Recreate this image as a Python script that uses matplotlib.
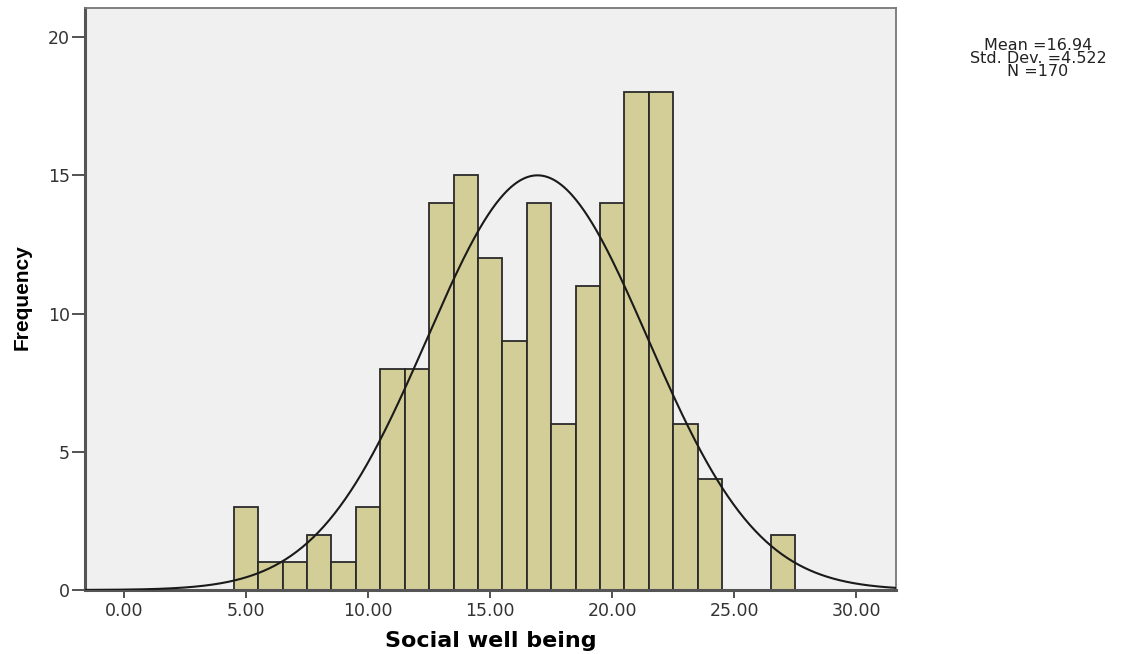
import numpy as np
import matplotlib
matplotlib.use("Agg")
import matplotlib.pyplot as plt
from matplotlib import font_manager

# Data
bin_centers = [5, 6, 7, 8, 9, 10, 11, 12, 13, 14, 15, 16, 17, 18, 19, 20, 21, 22, 23, 24, 25, 26, 27]
frequencies = [3, 1, 1, 2, 1, 3, 8, 8, 14, 15, 12, 9, 14, 6, 11, 14, 18, 18, 6, 4, 0, 0, 2]
mean_val = 16.94
std_val = 4.522
n_val = 170
bin_width = 1.0
x_ticks = [0, 5, 10, 15, 20, 25, 30]
y_ticks = [0, 5, 10, 15, 20]

names = {f.name for f in font_manager.fontManager.ttflist}
arial_like = "Liberation Sans" if "Liberation Sans" in names else "DejaVu Sans"
narrow_font = "Liberation Sans Narrow" if "Liberation Sans Narrow" in names else arial_like
wide_font = "DejaVu Sans"
plt.rcParams["font.family"] = [wide_font]

W, H = 1123, 654
fig = plt.figure(figsize=(W / 100, H / 100), dpi=100)
ax = fig.add_axes([85 / W, 64 / H, 811 / W, 582 / H])
ax.set_facecolor("#F0F0F0")

ax.bar(bin_centers, frequencies, width=bin_width, color="#D3CE97",
       edgecolor="#2A2A2A", linewidth=1.3, zorder=2)

xs = np.linspace(-1.6, 31.7, 600)
ys = n_val * bin_width / (std_val * np.sqrt(2 * np.pi)) * np.exp(-0.5 * ((xs - mean_val) / std_val) ** 2)
ax.plot(xs, ys, color="#1A1A1A", linewidth=1.5, zorder=3)

ax.set_xlim(-1.6, 31.63)
ax.set_ylim(0, 21.05)
ax.set_xticks(x_ticks)
ax.set_xticklabels([f"{t:.2f}" for t in x_ticks])
ax.set_yticks(y_ticks)
ax.tick_params(axis="both", direction="out", width=1.3, colors="#444444",
               labelsize=12.5, labelcolor="#333333")
ax.tick_params(axis="x", length=6, pad=2.5)
ax.tick_params(axis="y", length=9.5, pad=1.5)

for side in ["left", "bottom"]:
    ax.spines[side].set_color("#555555")
    ax.spines[side].set_linewidth(2.2)
for side in ["top", "right"]:
    ax.spines[side].set_color("#777777")
    ax.spines[side].set_linewidth(1.3)

ax.set_xlabel("Social well being", fontsize=16, fontweight="bold", family=[wide_font])
ax.xaxis.label.set_va("center")
ax.xaxis.set_label_coords(0.5, (590 - 641) / 582)

ax.set_ylabel("Frequency", fontsize=15, fontweight="bold", family=[narrow_font, "DejaVu Sans"])
ax.yaxis.label.set_va("center")
ax.yaxis.set_label_coords((22 - 85) / 811, (590 - 297) / 582)

stats_lines = [f"Mean ={mean_val:.2f}", f"Std. Dev. ={std_val:.3f}", f"N ={n_val}"]
for line, ypix in zip(stats_lines, [45, 58.5, 72]):
    fig.text(1038 / W, 1 - ypix / H, line, ha="center", va="center",
             fontsize=11.5, color="#222222")

fig.savefig("out.png", dpi=100)
